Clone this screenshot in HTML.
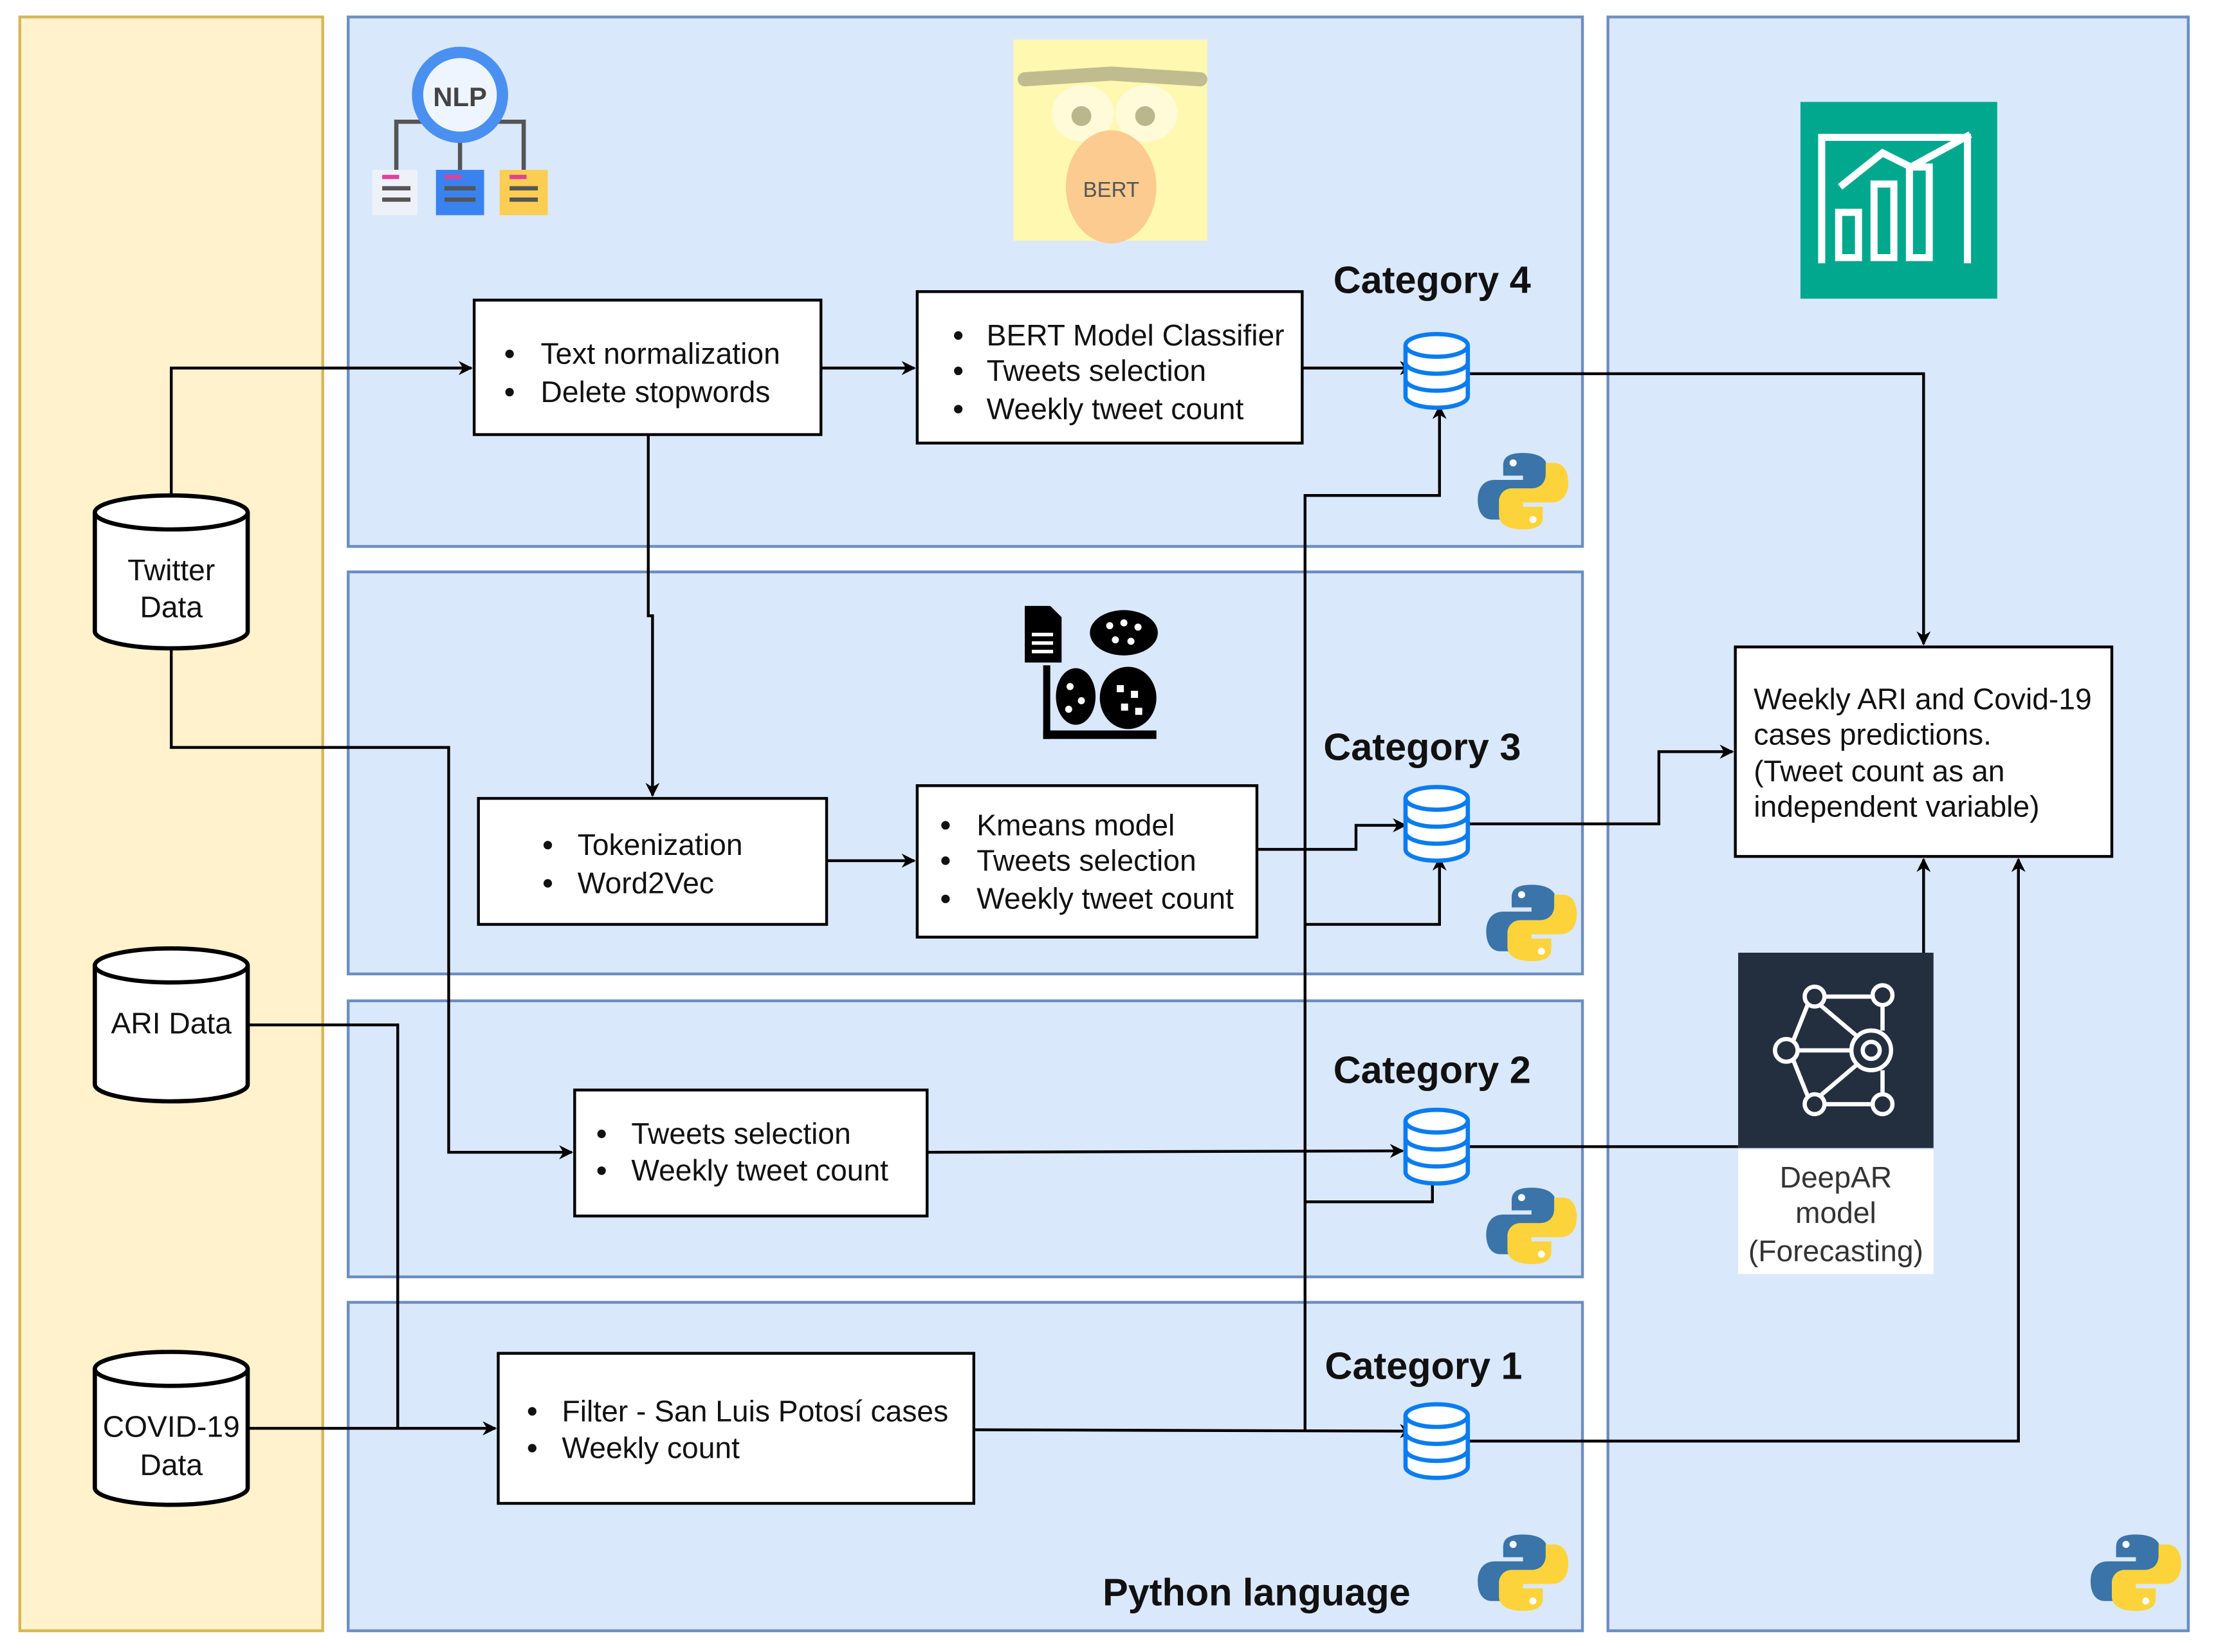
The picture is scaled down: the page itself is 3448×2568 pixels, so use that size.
<!DOCTYPE html>
<html><head><meta charset="utf-8"><style>
html,body{margin:0;padding:0;background:#fff;}
svg{display:block;}
text{font-family:"Liberation Sans",Arial,sans-serif;}
</style></head><body>
<svg width="3448" height="2568" viewBox="0 0 1567 1167" preserveAspectRatio="none" xmlns="http://www.w3.org/2000/svg">
<defs>
<marker id="a" markerWidth="10" markerHeight="10" refX="9" refY="5" orient="auto" markerUnits="userSpaceOnUse">
<path d="M0,0 L10,5 L0,10 L3,5 Z" fill="#000"/></marker>
<g id="db">
<path d="M-22,-18 v36 a22,8 0 0 0 44,0 v-36" fill="#fff" stroke="#0a7cf0" stroke-width="3"/>
<ellipse cx="0" cy="-18" rx="22" ry="8" fill="#fff" stroke="#0a7cf0" stroke-width="3"/>
<path d="M-22,-6 a22,8 0 0 0 44,0 M-22,6 a22,8 0 0 0 44,0" fill="none" stroke="#0a7cf0" stroke-width="3"/>
</g>
<g id="py">
<path d="M0,-27 c-14,0 -14,6 -14,10 v6 h14 v3 h-20 c-8,0 -12,6 -12,14 c0,9 4,14 10,14 h6 v-8 c0,-6 4,-10 10,-10 h14 c5,0 9,-4 9,-9 v-10 c0,-6 -6,-10 -17,-10 z" fill="#3a74a8"/>
<path d="M0,27 c14,0 14,-6 14,-10 v-6 h-14 v-3 h20 c8,0 12,-6 12,-14 c0,-9 -4,-14 -10,-14 h-6 v8 c0,6 -4,10 -10,10 h-14 c-5,0 -9,4 -9,9 v10 c0,6 6,10 17,10 z" fill="#fdd33c"/>
<circle cx="-7" cy="-20" r="2.5" fill="#fff"/><circle cx="7" cy="20" r="2.5" fill="#fff"/>
</g>
<g id="cyl">
<path d="M-54,-42 v84 a54,12 0 0 0 108,0 v-84" fill="#fff" stroke="#000" stroke-width="3"/>
<ellipse cx="0" cy="-42" rx="54" ry="12" fill="#fff" stroke="#000" stroke-width="3"/>
</g>
</defs>
<rect x="14" y="12" width="214" height="1140" fill="#fff2cc" stroke="#d6b656" stroke-width="2"/>
<g fill="#dae8fc" stroke="#6c8ebf" stroke-width="2">
<rect x="246" y="12" width="872" height="374"/>
<rect x="246" y="404" width="872" height="284"/>
<rect x="246" y="707" width="872" height="195"/>
<rect x="246" y="920" width="872" height="232"/>
<rect x="1136" y="12" width="410" height="1140"/>
</g>
<g>
<polyline points="280,120 280,86 300,86" fill="none" stroke="#555" stroke-width="3"/>
<polyline points="370,120 370,86 350,86" fill="none" stroke="#555" stroke-width="3"/>
<line x1="325" y1="100" x2="325" y2="120" stroke="#555" stroke-width="3"/>
<circle cx="325" cy="67" r="34" fill="#4a90f0"/>
<circle cx="325" cy="67" r="26" fill="#eef5ff"/>
<text x="325" y="75" font-size="19" font-weight="bold" text-anchor="middle" fill="#444">NLP</text>
<rect x="263" y="120" width="32" height="32" fill="#eef2f8"/>
<rect x="308" y="120" width="34" height="32" fill="#3a82f0"/>
<rect x="353" y="120" width="34" height="32" fill="#fbcd52"/>
<g stroke="#555" stroke-width="3"><line x1="270" y1="133" x2="290" y2="133"/><line x1="270" y1="141" x2="290" y2="141"/><line x1="314" y1="133" x2="336" y2="133"/><line x1="314" y1="141" x2="336" y2="141"/><line x1="360" y1="133" x2="380" y2="133"/><line x1="360" y1="141" x2="380" y2="141"/></g>
<g stroke="#e0409a" stroke-width="3"><line x1="270" y1="125" x2="282" y2="125"/><line x1="314" y1="125" x2="326" y2="125"/><line x1="360" y1="125" x2="372" y2="125"/></g>
</g>
<rect x="716" y="28" width="137" height="142" fill="#fff8b0"/>
<ellipse cx="765" cy="80" rx="22" ry="20" fill="#fffbd8"/><ellipse cx="810" cy="80" rx="22" ry="20" fill="#fffbd8"/>
<path d="M724,56 L785,52 L848,56" stroke="#c0bc90" stroke-width="10" stroke-linecap="round" fill="none"/>
<circle cx="764" cy="82" r="7" fill="#b9b78c"/><circle cx="809" cy="82" r="7" fill="#b9b78c"/>
<ellipse cx="785" cy="132" rx="32" ry="40" fill="#fbcb8f"/>
<text x="785" y="139" font-size="15" text-anchor="middle" fill="#555">BERT</text>
<g fill="#000">
<path d="M724,428 h18 l8,8 v32 h-26 z"/>
<rect x="737" y="470" width="5" height="52"/><rect x="737" y="516" width="80" height="6"/>
<ellipse cx="794" cy="447" rx="24" ry="16"/>
<ellipse cx="760" cy="492" rx="14" ry="20"/><ellipse cx="797" cy="493" rx="20" ry="22"/>
</g>
<g fill="#fff"><rect x="729" y="447" width="15" height="2.5"/><rect x="729" y="453" width="15" height="2.5"/><rect x="729" y="459" width="15" height="2.5"/>
<circle cx="784" cy="442" r="2.5"/><circle cx="794" cy="440" r="2.5"/><circle cx="804" cy="443" r="2.5"/><circle cx="788" cy="452" r="2.5"/><circle cx="799" cy="453" r="2.5"/>
<circle cx="756" cy="485" r="2.5"/><circle cx="764" cy="495" r="2.5"/><circle cx="755" cy="501" r="2.5"/>
<rect x="789" y="484" width="5" height="5"/><rect x="799" y="488" width="5" height="5"/><rect x="792" y="497" width="5" height="5"/><rect x="802" y="500" width="5" height="5"/></g>
<rect x="1272" y="72" width="139" height="139" fill="#01a88d"/>
<g fill="none" stroke="#fff" stroke-width="5">
<polyline points="1287,186 1287,97 1390,97 1390,186"/>
<rect x="1299" y="150" width="14" height="32"/><rect x="1324" y="130" width="14" height="52"/><rect x="1349" y="118" width="14" height="64"/>
<polyline points="1300,132 1330,108 1350,118 1392,95"/>
</g>
<rect x="1228" y="673" width="138" height="138" fill="#232f3e"/>
<g stroke="#fff" stroke-width="3" fill="none">
<circle cx="1262" cy="742" r="8"/><circle cx="1282" cy="704" r="7"/><circle cx="1282" cy="780" r="7"/><circle cx="1330" cy="703" r="7"/><circle cx="1330" cy="780" r="7"/>
<circle cx="1322" cy="742" r="14"/><circle cx="1322" cy="742" r="6"/>
<path d="M1270,742 H1308 M1267,735 L1277,710 M1267,749 L1277,774 M1289,704 H1323 M1289,780 H1323 M1286,710 L1312,732 M1286,774 L1312,752 M1330,710 V728 M1330,773 V756"/>
</g>
<rect x="1228" y="812" width="138" height="88" fill="#fff"/>
<g font-size="21" fill="#333" text-anchor="middle"><text x="1297" y="839">DeepAR</text><text x="1297" y="864">model</text><text x="1297" y="891">(Forecasting)</text></g>
<g fill="none" stroke="#000" stroke-width="2">
<polyline points="121,350 121,260 333,260" marker-end="url(#a)"/>
<polyline points="580,260 646,260" marker-end="url(#a)"/>
<polyline points="458,307 458,435 461,435 461,562" marker-end="url(#a)"/>
<polyline points="920,260 998,260" marker-end="url(#a)"/>
<polyline points="1038,264 1359,264 1359,455" marker-end="url(#a)"/>
<polyline points="121,457 121,528 317,528 317,814 404,814" marker-end="url(#a)"/>
<polyline points="584,608 646,608" marker-end="url(#a)"/>
<polyline points="888,600 958,600 958,583 993,583" marker-end="url(#a)"/>
<polyline points="922,1010 922,350 1017,350 1017,287" marker-end="url(#a)"/>
<polyline points="922,653 1017,653 1017,606" marker-end="url(#a)"/>
<polyline points="922,849 1012,849 1012,818" marker-end="url(#a)"/>
<polyline points="688,1010 998,1011" marker-end="url(#a)"/>
<polyline points="1038,1018 1426,1018 1426,607" marker-end="url(#a)"/>
<polyline points="1038,810 1228,810"/>
<polyline points="1359,673 1359,607" marker-end="url(#a)"/>
<polyline points="1038,582 1172,582 1172,531 1224,531" marker-end="url(#a)"/>
<polyline points="655,814 991,813" marker-end="url(#a)"/>
<polyline points="175,724 281,724 281,1009"/>
<polyline points="175,1009 350,1009" marker-end="url(#a)"/>
</g>
<g fill="#fff" stroke="#000" stroke-width="2">
<rect x="335" y="212" width="245" height="95"/>
<rect x="648" y="206" width="272" height="107"/>
<rect x="338" y="564" width="246" height="89"/>
<rect x="648" y="555" width="240" height="107"/>
<rect x="406" y="770" width="249" height="89"/>
<rect x="352" y="956" width="336" height="106"/>
<rect x="1226" y="457" width="266" height="148"/>
</g>
<g font-size="21" fill="#111">
<text x="382" y="257">Text normalization</text><text x="382" y="284">Delete stopwords</text>
<text x="697" y="244">BERT Model Classifier</text><text x="697" y="269">Tweets selection</text><text x="697" y="296">Weekly tweet count</text>
<text x="408" y="604">Tokenization</text><text x="408" y="631">Word2Vec</text>
<text x="690" y="590">Kmeans model</text><text x="690" y="615">Tweets selection</text><text x="690" y="642">Weekly tweet count</text>
<text x="446" y="808">Tweets selection</text><text x="446" y="834">Weekly tweet count</text>
<text x="397" y="1004">Filter - San Luis Potosí cases</text><text x="397" y="1030">Weekly count</text>
<text x="1239" y="501">Weekly ARI and Covid-19</text><text x="1239" y="526">cases predictions.</text><text x="1239" y="552">(Tweet count as an</text><text x="1239" y="577">independent variable)</text>
</g>
<g fill="#111">
<circle cx="360" cy="250" r="3"/><circle cx="360" cy="277" r="3"/>
<circle cx="677" cy="237" r="3"/><circle cx="677" cy="262" r="3"/><circle cx="677" cy="289" r="3"/>
<circle cx="387" cy="597" r="3"/><circle cx="387" cy="624" r="3"/>
<circle cx="668" cy="583" r="3"/><circle cx="668" cy="608" r="3"/><circle cx="668" cy="635" r="3"/>
<circle cx="425" cy="801" r="3"/><circle cx="425" cy="827" r="3"/>
<circle cx="376" cy="997" r="3"/><circle cx="376" cy="1023" r="3"/>
</g>
<use href="#cyl" x="121" y="404"/><use href="#cyl" x="121" y="724"/><use href="#cyl" x="121" y="1009"/>
<g font-size="21" fill="#111" text-anchor="middle">
<text x="121" y="410">Twitter</text><text x="121" y="436">Data</text>
<text x="121" y="730">ARI Data</text>
<text x="121" y="1015">COVID-19</text><text x="121" y="1042">Data</text>
</g>
<use href="#db" x="1015" y="262"/><use href="#db" x="1015" y="582"/><use href="#db" x="1015" y="810"/><use href="#db" x="1015" y="1018"/>
<g font-size="27" font-weight="bold" fill="#111">
<text x="942" y="207">Category 4</text><text x="935" y="537">Category 3</text><text x="942" y="765">Category 2</text><text x="936" y="974">Category 1</text>
<text x="779" y="1134">Python language</text>
</g>
<use href="#py" x="1076" y="347"/><use href="#py" x="1082" y="652"/><use href="#py" x="1082" y="866"/><use href="#py" x="1076" y="1111"/><use href="#py" x="1509" y="1111"/>
</svg>
</body></html>
